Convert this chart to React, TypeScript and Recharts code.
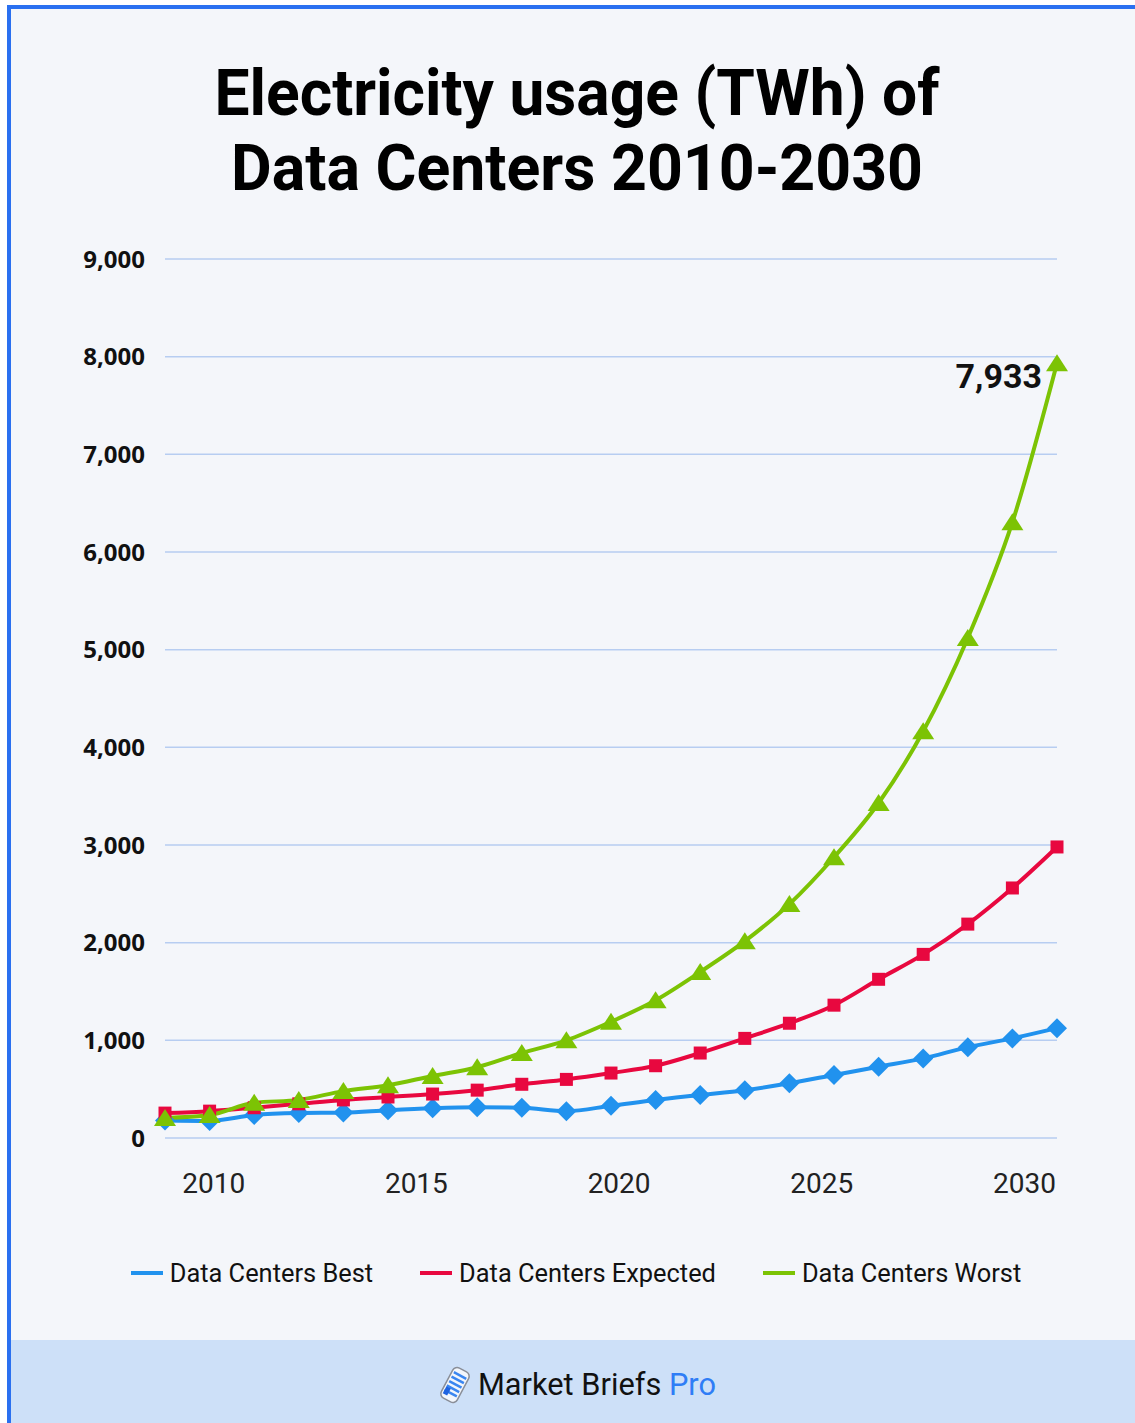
import React from 'react'
import { LineChart, Line, XAxis, YAxis, CartesianGrid, Legend, LabelList } from 'recharts'

// x positions of the points (in years)
const years = [2008.8, 2009.9, 2011.0, 2012.1, 2013.2, 2014.3, 2015.4, 2016.5, 2017.6, 2018.7, 2019.8, 2020.9, 2022.0, 2023.1, 2024.2, 2025.3, 2026.4, 2027.5, 2028.6, 2029.7, 2030.8]
const best = [180, 175, 235, 255, 260, 285, 305, 315, 310, 275, 330, 390, 440, 490, 560, 645, 730, 815, 930, 1020, 1125]
const expected = [255, 275, 310, 350, 390, 420, 450, 490, 550, 600, 665, 740, 870, 1020, 1175, 1360, 1625, 1880, 2190, 2560, 2980]
const worst = [205, 235, 360, 390, 480, 540, 635, 725, 870, 1000, 1190, 1410, 1700, 2015, 2395, 2875, 3430, 4165, 5120, 6305, 7933]
const xTicks = [2010, 2015, 2020, 2025, 2030]
const yTicks = [0, 1000, 2000, 3000, 4000, 5000, 6000, 7000, 8000, 9000]

const series = [
    { key: 'best', name: 'Data Centers Best', color: '#2192ee' },
    { key: 'expected', name: 'Data Centers Expected', color: '#e8083f' },
    { key: 'worst', name: 'Data Centers Worst', color: '#7cc304' },
]

const data = years.map((year, i) => ({ year, best: best[i], expected: expected[i], worst: worst[i] }))

const Diamond = ({ cx, cy, fill }: any) => (
    <path d={`M${cx},${cy - 10}L${cx + 10},${cy}L${cx},${cy + 10}L${cx - 10},${cy}Z`} fill={fill} />
)
const Square = ({ cx, cy, fill }: any) => <rect x={cx - 6.5} y={cy - 6.5} width={13} height={13} fill={fill} />
const Triangle = ({ cx, cy, fill }: any) => (
    <path d={`M${cx},${cy - 9}L${cx + 11},${cy + 8}L${cx - 11},${cy + 8}Z`} fill={fill} />
)

const PeakLabel = (props: any) => {
    const { x, y, value, index } = props
    if (index !== worst.length - 1) return null
    return (
        <text x={x - 15} y={y + 25} textAnchor="end" fontFamily="Roboto" fontWeight={700} fontSize={34} fill="#111">
            {Number(value).toLocaleString('en-US')}
        </text>
    )
}

const LegendRow = () => (
    <div style={{ height: 121, paddingTop: 60, boxSizing: 'border-box', display: 'flex', justifyContent: 'center', alignItems: 'flex-start', paddingLeft: 6 }}>
        {series.map((s, i) => (
            <div key={s.key} style={{ display: 'flex', alignItems: 'center', marginLeft: i === 0 ? 0 : 47 }}>
                <div style={{ width: 32, height: 4, background: s.color, marginRight: 7 }} />
                <span style={{ fontFamily: 'Roboto', fontSize: 25.4, color: '#111', lineHeight: '30px' }}>{s.name}</span>
            </div>
        ))}
    </div>
)

const Logo = () => (
    <svg width={40} height={40} viewBox="0 0 40 40">
        <g transform="rotate(28 20 20)">
            <rect x={11} y={3} width={18} height={34} rx={5} fill="#f2f6fc" stroke="#8a8f99" strokeWidth={1.5} />
            {[8, 13, 18, 23, 28].map((y) => (
                <rect key={y} x={13} y={y} width={14} height={2.5} fill="#3a86f0" />
            ))}
            <rect x={13} y={25} width={5} height={8} fill="#1f63e0" />
        </g>
    </svg>
)

export default function App() {
    return (
        <div
            style={{
                position: 'absolute',
                left: 7,
                top: 5,
                width: 1128,
                height: 1418,
                borderLeft: '4px solid #2a70f0',
                borderTop: '4px solid #2a70f0',
                boxSizing: 'border-box',
                background: '#f4f6fa',
                overflow: 'hidden',
            }}
        >
            <svg width={1124} height={220} style={{ position: 'absolute', left: 0, top: 0 }}>
                <text x={566} y={106} textAnchor="middle" fontFamily="Roboto" fontWeight={700} fontSize={64} fill="#000" textLength={725} lengthAdjust="spacingAndGlyphs">
                    Electricity usage (TWh) of
                </text>
                <text x={566} y={181} textAnchor="middle" fontFamily="Roboto" fontWeight={700} fontSize={64} fill="#000" textLength={692} lengthAdjust="spacingAndGlyphs">
                    Data Centers 2010-2030
                </text>
            </svg>

            <div style={{ position: 'absolute', left: 0, top: 230 }}>
                <LineChart width={1124} height={1100} data={data} margin={{ top: 20, right: 78, left: 0, bottom: 20 }}>
                    <CartesianGrid vertical={false} stroke="#b7cdf1" strokeWidth={1.5} />
                    <XAxis
                        dataKey="year"
                        type="number"
                        domain={[2008.8, 2030.8]}
                        ticks={xTicks}
                        axisLine={false}
                        tickLine={false}
                        tickSize={0}
                        tickMargin={35}
                        height={60}
                        tick={{ fontFamily: 'Roboto', fontSize: 28, fill: '#222' }}
                    />
                    <YAxis
                        domain={[0, 9000]}
                        ticks={yTicks}
                        axisLine={false}
                        tickLine={false}
                        tickSize={0}
                        tickMargin={20}
                        width={154}
                        tickFormatter={(v: number) => v.toLocaleString('en-US')}
                        tick={{ fontFamily: 'Open Sans', fontWeight: 700, fontSize: 24, fill: '#111' }}
                    />
                    <Legend verticalAlign="bottom" wrapperStyle={{ left: 0, width: 1124 }} content={() => <LegendRow />} />
                    <Line
                        type="monotone"
                        dataKey="best"
                        name="Data Centers Best"
                        stroke="#2192ee"
                        strokeWidth={4}
                        dot={(p: any) => <Diamond key={p.index} cx={p.cx} cy={p.cy} fill="#2192ee" />}
                        isAnimationActive={false}
                    />
                    <Line
                        type="monotone"
                        dataKey="expected"
                        name="Data Centers Expected"
                        stroke="#e8083f"
                        strokeWidth={4}
                        dot={(p: any) => <Square key={p.index} cx={p.cx} cy={p.cy} fill="#e8083f" />}
                        isAnimationActive={false}
                    />
                    <Line
                        type="monotone"
                        dataKey="worst"
                        name="Data Centers Worst"
                        stroke="#7cc304"
                        strokeWidth={4}
                        dot={(p: any) => <Triangle key={p.index} cx={p.cx} cy={p.cy} fill="#7cc304" />}
                        isAnimationActive={false}
                    >
                        <LabelList dataKey="worst" content={PeakLabel} />
                    </Line>
                </LineChart>
            </div>

            <div
                style={{
                    position: 'absolute',
                    left: 0,
                    top: 1331,
                    width: 1124,
                    height: 90,
                    background: '#cde0f8',
                }}
            >
                <div style={{ position: 'absolute', left: 424, top: 25 }}>
                    <Logo />
                </div>
                <svg width={260} height={50} style={{ position: 'absolute', left: 464, top: 20 }}>
                    <text x={3} y={35} fontFamily="Roboto" fontSize={31} fill="#111" textLength={238} lengthAdjust="spacingAndGlyphs">
                        Market Briefs <tspan fill="#2f7df6">Pro</tspan>
                    </text>
                </svg>
            </div>
        </div>
    )
}
